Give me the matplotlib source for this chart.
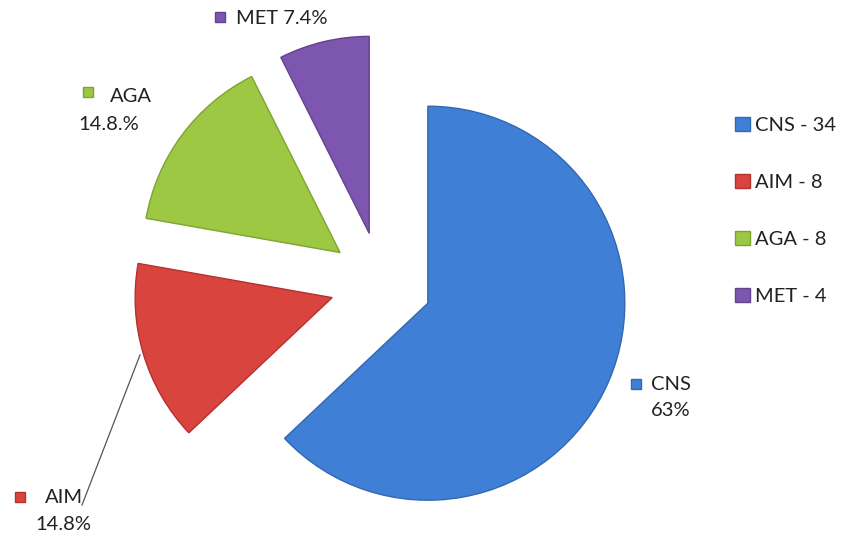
import matplotlib
matplotlib.use("Agg")
import matplotlib.pyplot as plt

categories = ["CNS", "AIM", "AGA", "MET"]
counts = [34, 8, 8, 4]
pct_labels = ["63%", "14.8%", "14.8.%", "7.4%"]
colors = ["#3F80D6", "#D9443F", "#9CC843", "#7D56B0"]
edge_colors = ["#3567AE", "#B3322F", "#7FA332", "#634290"]

plt.rcParams['font.family'] = ['Lato', 'DejaVu Sans']

W, H = 845, 542
fig = plt.figure(figsize=(W / 100, H / 100), dpi=100)
ax = fig.add_axes([0, 0, 1, 1])


def Y(y):
    return H - y


wedges, _ = ax.pie(counts, colors=colors, startangle=90, counterclock=False,
                   center=(381, Y(283)), radius=197, explode=[51] * 4,
                   wedgeprops=dict(linewidth=1.0))
for w, ec in zip(wedges, edge_colors):
    w.set_edgecolor(ec)

ax.set_xlim(0, W)
ax.set_ylim(0, H)
ax.set_aspect('equal')
ax.axis('off')

fs = 14.5
txt = '#222222'

# data labels with small square markers
# CNS
ax.plot(636, Y(384), marker='s', ms=7.5, color=colors[0], mec=edge_colors[0])
ax.text(651, Y(385), categories[0], fontsize=fs, va='center', ha='left', color=txt)
ax.text(651, Y(411), pct_labels[0], fontsize=fs, va='center', ha='left', color=txt)
# AIM
ax.plot([140, 82], [Y(355), Y(505)], color='#555555', lw=0.9)
ax.plot(20, Y(497), marker='s', ms=7.5, color=colors[1], mec=edge_colors[1])
ax.text(45, Y(498), categories[1], fontsize=fs, va='center', ha='left', color=txt)
ax.text(35, Y(524), pct_labels[1], fontsize=fs, va='center', ha='left', color=txt)
# AGA
ax.plot(88, Y(92), marker='s', ms=7.5, color=colors[2], mec=edge_colors[2])
ax.text(110, Y(96), categories[2], fontsize=fs, va='center', ha='left', color=txt)
ax.text(78, Y(124), pct_labels[2], fontsize=fs, va='center', ha='left', color=txt)
# MET
ax.plot(220, Y(17), marker='s', ms=7.5, color=colors[3], mec=edge_colors[3])
ax.text(236, Y(18), categories[3] + " " + pct_labels[3], fontsize=fs,
        va='center', ha='left', color=txt)

legend_labels = [f"{c} - {n}" for c, n in zip(categories, counts)]
ax.legend(wedges, legend_labels, loc='center left',
          bbox_to_anchor=(717 / W, 1 - 211 / H), frameon=False, fontsize=fs,
          handlelength=0.72, handleheight=0.72, handletextpad=0.25,
          labelspacing=1.97, labelcolor=txt)

fig.savefig("out.png", dpi=100, facecolor='white')
